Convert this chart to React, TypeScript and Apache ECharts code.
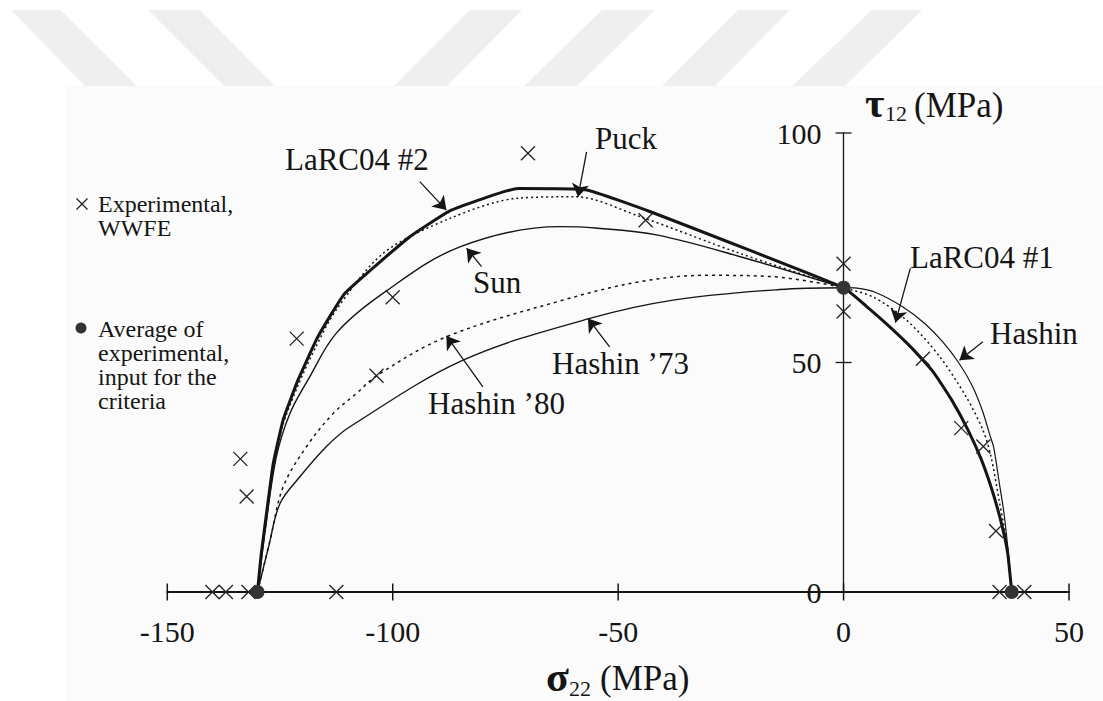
import React, { useEffect, useRef } from "react";
import * as echarts from "echarts";

// ---------- data (σ22, τ12) in MPa ----------
const xTicks = [-150, -100, -50, 0, 50];
const yTicks = [50, 100];

const larc04 = [
  [-130, 0], [-129.2, 8], [-128, 17.1], [-126.5, 28], [-124.3, 37.5], [-121, 46.2],
  [-116.6, 55.6], [-110.6, 65.1], [-96.2, 77.4], [-87, 83.2], [-72.2, 87.9], [-57, 87.6],
  [-43, 82.9], [0, 66.3], [5, 62.3], [10, 58], [15, 53.3], [20, 47.8], [24, 41.8],
  [27.5, 35.5], [30.5, 29], [33, 22], [35, 15], [36.4, 8.5], [37.3, 0],
];
const puck = [
  [-130, 0], [-128.5, 13], [-126.8, 26], [-124.5, 36], [-121, 45], [-117, 53.5],
  [-112.5, 61.5], [-102.1, 73.8], [-87.3, 81.4], [-72.3, 85.8], [-59.3, 86.1],
  [-45.2, 81.8], [-23.1, 73.8], [0, 66.3], [6.5, 64.3], [13.9, 59.3], [21.3, 51.3],
  [27.2, 42.5], [30.9, 35.3], [32.7, 29.5], [34.5, 20], [36.3, 10], [37.3, 0],
];
const sun = [
  [-130, 0], [-128.2, 14], [-125.8, 29.5], [-122.8, 38.9], [-118.8, 46.2], [-112.5, 56.4],
  [-102.1, 65.1], [-85.1, 75.2], [-63, 79.6], [-55, 79.3], [-41.5, 77.8], [-23.1, 73.1], [0, 66.3],
];
const hashin80 = [
  [-130, 0], [-127.2, 11.3], [-124.3, 22.9], [-119.1, 31.7], [-113.2, 38.9], [-108, 43.3],
  [-103.6, 47.1], [-88.1, 55.6], [-62.2, 63.6], [-45.2, 67.6], [-30.4, 69], [-15.7, 68.7], [0, 66.3],
];
const hashin73 = [
  [-130, 0], [-127.5, 10], [-125, 19.3], [-120.6, 25.1], [-114.7, 31.7], [-109.5, 36],
  [-84.4, 50.5], [-56.3, 59.6], [-37.8, 63.6], [-14.2, 65.9], [0, 66.3],
];
const hashin = [
  [0, 66.3], [3, 66.2], [7, 65.3], [13, 62.2], [18, 58.5], [22, 54.5], [25.5, 50],
  [28.5, 45], [30.8, 39.5], [32.5, 34], [33.3, 31.5], [34.5, 24], [35.6, 17], [36.6, 8], [37.3, 0],
];
const experimental = [
  [-140, 0], [-137, 0], [-132, 0], [-112.5, 0], [34.6, 0], [40.1, 0],
  [-133.8, 29], [-132.4, 20.8], [-121.3, 55.2], [-100, 64.2], [-103.6, 47.1], [-70, 95.6],
  [-43.9, 81], [0, 71.5], [0, 61.1], [17.6, 50.8], [26.1, 35.7], [31, 31.7], [33.8, 13.3],
];
const averages = [[-130, 0], [0, 66.3], [37.3, 0]];

// arrows: [tail, head]
const arrows = [
  [[-94, 89.4], [-88.1, 83.2]],
  [[-57, 95.9], [-58.9, 86.1]],
  [[-80.3, 70.9], [-83.6, 74.9]],
  [[-80, 44.7], [-88.1, 55.8]],
  [[-51.9, 53.4], [-56.7, 59.6]],
  [[14.8, 70.5], [11.5, 58.7]],
  [[30.9, 54.5], [25.7, 50.5]],
];

const SERIF = "'Liberation Serif', 'Times New Roman', serif";
const INK = "#151515";
const X_MIN = -150;
const X_MAX = 50;
const W = 1103;
const G_LEFT = 167.3;
const G_RIGHT = 34;

function txt(text: string, x: number, y: number, size: number, extra: any = {}) {
  return {
    type: "text",
    x,
    y,
    z: 100,
    silent: true,
    style: {
      text,
      fill: INK,
      font: `${extra.weight || "normal"} ${size}px ${SERIF}`,
      textAlign: extra.align || "left",
      textVerticalAlign: extra.valign || "middle",
    },
  };
}

function stripe(pts: number[][]) {
  return { type: "polygon", z: -100, silent: true, shape: { points: pts }, style: { fill: "#efefef" } };
}

const lineSeries = (name: string, data: number[][], width: number, type: any, smooth: any) => ({
  name,
  type: "line",
  data,
  showSymbol: false,
  symbol: "none",
  smooth,
  clip: false,
  z: 4,
  lineStyle: { color: INK, width, type },
  silent: true,
});

const legendLines1 = ["Experimental,", "WWFE"];
const legendLines2 = ["Average of", "experimental,", "input for the", "criteria"];

export default function App() {
  const ref = useRef<HTMLDivElement>(null);
  useEffect(() => {
    const chart = echarts.init(ref.current!, null, { renderer: "svg" });
    const legendTexts: any[] = [];
    legendLines1.forEach((t, i) => legendTexts.push(txt(t, 98, 204 + i * 24, 24)));
    legendLines2.forEach((t, i) => legendTexts.push(txt(t, 98, 329 + i * 24, 24)));
    // place the τ axis at σ = 0
    const yAxisOffset = -((W - G_LEFT - G_RIGHT) * (0 - X_MIN)) / (X_MAX - X_MIN);
    const option: any = {
      animation: false,
      backgroundColor: "#ffffff",
      grid: { left: G_LEFT, right: G_RIGHT, top: 133, bottom: 109, containLabel: false },
      xAxis: {
        type: "value",
        min: X_MIN,
        max: X_MAX,
        interval: 50,
        axisLine: { show: true, onZero: true, lineStyle: { color: INK, width: 2 } },
        axisTick: { show: false },
        splitLine: { show: false },
        axisLabel: { color: INK, fontFamily: SERIF, fontSize: 30, margin: 24 },
      },
      yAxis: {
        type: "value",
        min: 0,
        max: 100,
        interval: 50,
        position: "left",
        offset: yAxisOffset,
        axisLine: { show: true, onZero: false, lineStyle: { color: INK, width: 1.3 } },
        axisTick: { show: false },
        splitLine: { show: false },
        axisLabel: { color: INK, fontFamily: SERIF, fontSize: 30, margin: 22 },
      },
      series: [
        lineSeries("LaRC04", larc04, 3, "solid", 0.12),
        lineSeries("Puck", puck, 1.5, [2, 3], 0.3),
        lineSeries("Sun", sun, 1.4, "solid", 0.35),
        lineSeries("Hashin '80", hashin80, 1.5, [3, 4], 0.35),
        lineSeries("Hashin '73", hashin73, 1.4, "solid", 0.35),
        lineSeries("Hashin", hashin, 1.2, "solid", 0.3),
        {
          name: "Experimental, WWFE",
          type: "scatter",
          data: experimental,
          symbol: "path://M0,0L10,10M10,0L0,10",
          symbolSize: 14,
          clip: false,
          z: 6,
          silent: true,
          itemStyle: { color: "none", borderColor: "#222", borderWidth: 1.3, opacity: 1 },
          markLine: {
            silent: true,
            symbol: ["none", "arrow"],
            symbolSize: 13,
            label: { show: false },
            lineStyle: { color: INK, width: 1.3, type: "solid", opacity: 1 },
            data: arrows.map(([a, b]) => [{ coord: a }, { coord: b }]),
          },
        },
        {
          name: "Average of experimental",
          type: "scatter",
          data: averages,
          symbol: "circle",
          symbolSize: 14,
          clip: false,
          z: 7,
          silent: true,
          itemStyle: { color: "#333333", opacity: 1 },
        },
        {
          name: "xticks",
          type: "scatter",
          data: xTicks.map((v) => [v, 0]),
          symbol: "rect",
          symbolSize: [1.5, 17],
          clip: false,
          z: 3,
          silent: true,
          itemStyle: { color: INK, opacity: 1 },
        },
        {
          name: "yticks",
          type: "scatter",
          data: yTicks.map((v) => [0, v]),
          symbol: "rect",
          symbolSize: [16, 1.3],
          clip: false,
          z: 3,
          silent: true,
          itemStyle: { color: INK, opacity: 1 },
        },
      ],
      graphic: {
        elements: [
          stripe([[11, 10], [60, 10], [137, 86], [85, 86]]),
          stripe([[148, 10], [200, 10], [275, 86], [224, 86]]),
          stripe([[470, 10], [522, 10], [447, 86], [394, 86]]),
          stripe([[602, 10], [655, 10], [577, 86], [524, 86]]),
          stripe([[738, 10], [790, 10], [715, 86], [662, 86]]),
          stripe([[872, 10], [922, 10], [845, 86], [792, 86]]),
          { type: "rect", z: -99, silent: true, shape: { x: 67, y: 86, width: 1036, height: 615 }, style: { fill: "#fbfbfb" } },
          // legend glyphs
          { type: "line", z: 100, silent: true, shape: { x1: 76.5, y1: 198.5, x2: 87.5, y2: 209.5 }, style: { stroke: "#222", lineWidth: 1.3 } },
          { type: "line", z: 100, silent: true, shape: { x1: 87.5, y1: 198.5, x2: 76.5, y2: 209.5 }, style: { stroke: "#222", lineWidth: 1.3 } },
          { type: "circle", z: 100, silent: true, shape: { cx: 81, cy: 328, r: 5.5 }, style: { fill: "#333" } },
          ...legendTexts,
          // annotations
          txt("LaRC04 #2", 285, 159, 31),
          txt("Puck", 595, 138, 31),
          txt("Sun", 473, 282, 31),
          txt("Hashin \u201973", 552, 363, 31),
          txt("Hashin \u201980", 428, 403, 31),
          txt("LaRC04 #1", 910, 257, 31),
          txt("Hashin", 990, 333, 31),
          // axis titles
          txt("\u03c3", 546, 677, 42, { weight: "bold" }),
          txt("22", 569, 688, 22),
          txt("(MPa)", 600, 678, 35),
          txt("\u03c4", 865, 103, 42, { weight: "bold" }),
          txt("12", 885, 113, 22),
          txt("(MPa)", 914, 105, 35),
        ],
      },
    };
    chart.setOption(option);
    return () => chart.dispose();
  }, []);
  return (
    <div
      ref={ref}
      style={{ position: "fixed", left: 0, top: 0, width: 1103, height: 701, background: "#fff" }}
    />
  );
}
